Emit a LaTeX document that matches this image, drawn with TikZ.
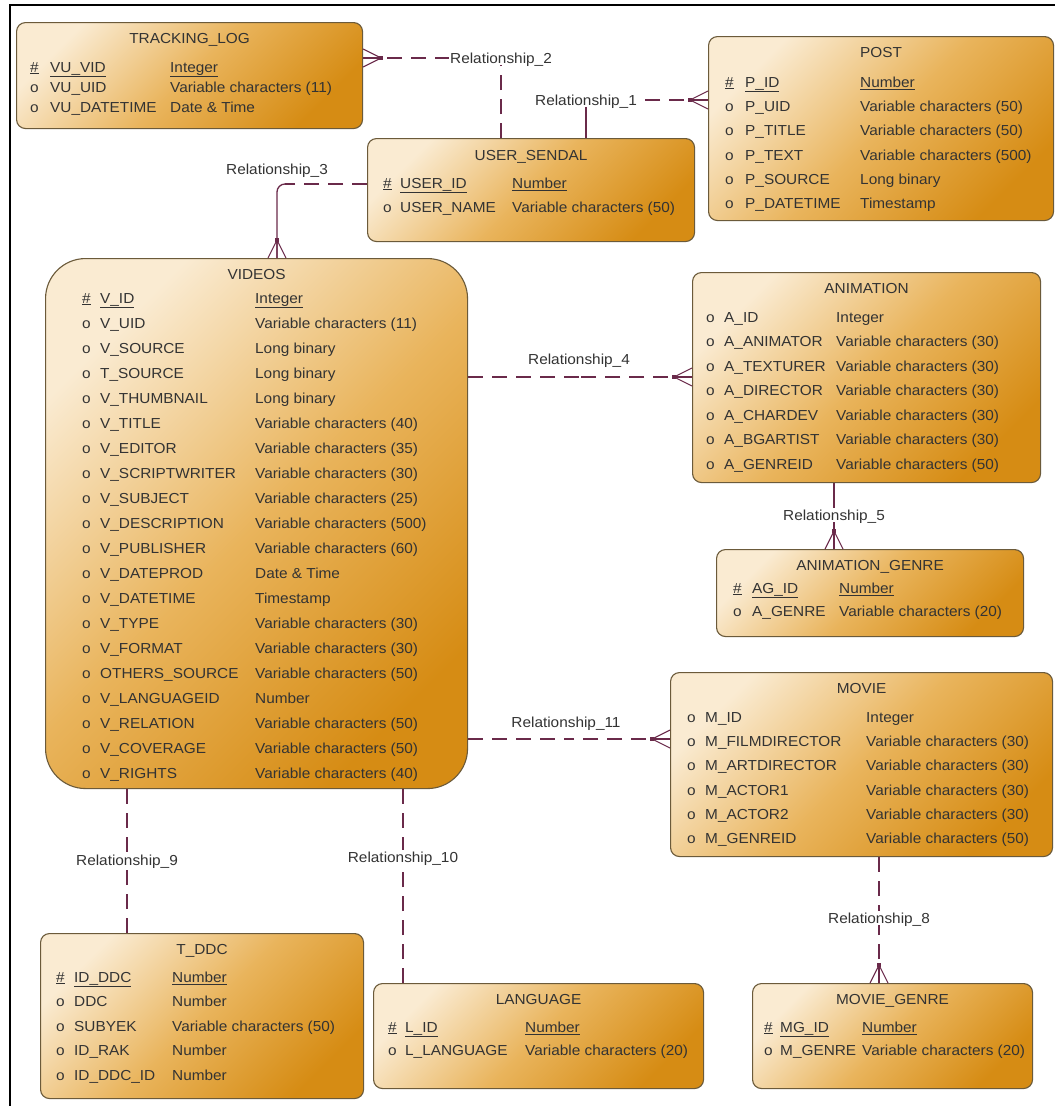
\documentclass[tikz,border=0pt]{standalone}
\usepackage{fontspec}
\setmainfont{Liberation Sans}[FakeStretch=1.06]
\usetikzlibrary{calc}
\pgfdeclarelayer{bg}
\pgfsetlayers{bg,main}
\definecolor{boxlight}{HTML}{FAEBD2}
\definecolor{boxmid}{HTML}{E9B45C}
\definecolor{boxdark}{HTML}{D68C14}
\definecolor{boxedge}{HTML}{6B5A3A}
\definecolor{relcol}{HTML}{6A2A4A}
\definecolor{txt}{HTML}{333333}

% column positions of the current entity
\newcommand\colM{0}\newcommand\colN{0}\newcommand\colT{0}
\newcommand\usecols[3]{\renewcommand\colM{#1}\renewcommand\colN{#2}\renewcommand\colT{#3}}
% attribute row: prefix, index, y, marker, name, type
\newcommand\erow[6]{%
  \node[cell] (#1m#2) at (\colM,#3) {#4};
  \node[cell] (#1n#2) at (\colN,#3) {#5};
  \node[cell] (#1t#2) at (\colT,#3) {#6};}
% primary key row: prefix, index, y, name, type
\newcommand\krow[5]{\erow{#1}{#2}{#3}{\underline{\#}}{\underline{#4}}{\underline{#5}}}

\begin{document}
\begin{tikzpicture}[x=1pt,y=-1pt,
  every node/.style={text=txt,font=\fontsize{14.5}{17}\selectfont},
  entity/.style={draw=boxedge,line width=1.1pt,rounded corners=9pt,
    top color=boxlight,bottom color=boxdark,middle color=boxmid,
    shading angle=45,anchor=north west,inner sep=0pt},
  cell/.style={anchor=west,inner sep=0pt,text height=10.5pt,text depth=0pt},
  etitle/.style={anchor=center,inner sep=0pt,text height=10.5pt,text depth=0pt},
  rellabel/.style={fill=white,inner sep=1.5pt,text height=10.5pt,text depth=0pt},
  rel/.style={draw=relcol,line width=1.3pt},
  reldash/.style={dash pattern=on 15pt off 9pt},
  crowfoot/.pic={
    \draw[relcol,line width=1.1pt] (0,0) -- (18,-9) (0,0) -- (18,0) (0,0) -- (18,9);
    \fill[relcol] (-2,-2) rectangle (2,2);}
]
\useasboundingbox (0,0) rectangle (1055,1106);
\begin{pgfonlayer}{bg}
  \fill[white] (0,0) rectangle (1055,1106);
\end{pgfonlayer}
\draw[line width=2.5pt] (10,1106) -- (10,5) -- (1055,5);

% ---------- entities ----------
\node[entity,minimum width=346pt,minimum height=106pt] (tl) at (16,22) {};
\node[etitle] (tlh) at ([yshift=-16pt]tl.north) {TRACKING\_LOG};
\usecols{30}{50}{170}
\krow{tl}{1}{67}{VU\_VID}{Integer}
\erow{tl}{2}{87}{o}{VU\_UID}{Variable characters (11)}
\erow{tl}{3}{107}{o}{VU\_DATETIME}{Date \& Time}

\node[entity,minimum width=345pt,minimum height=184pt] (post) at (708,36) {};
\node[etitle] (posth) at ([yshift=-16pt]post.north) {POST};
\usecols{725}{745}{860}
\krow{po}{1}{82}{P\_ID}{Number}
\erow{po}{2}{106}{o}{P\_UID}{Variable characters (50)}
\erow{po}{3}{130}{o}{P\_TITLE}{Variable characters (50)}
\erow{po}{4}{155}{o}{P\_TEXT}{Variable characters (500)}
\erow{po}{5}{179}{o}{P\_SOURCE}{Long binary}
\erow{po}{6}{203}{o}{P\_DATETIME}{Timestamp}

\node[entity,minimum width=327pt,minimum height=103pt] (us) at (367,138) {};
\node[etitle] (ush) at ([yshift=-17pt]us.north) {USER\_SENDAL};
\usecols{383}{400}{512}
\krow{us}{1}{183}{USER\_ID}{Number}
\erow{us}{2}{207}{o}{USER\_NAME}{Variable characters (50)}

\node[entity,rounded corners=40pt,minimum width=422pt,minimum height=530pt] (videos) at (45,258) {};
\node[etitle] (videosh) at ([yshift=-16pt]videos.north) {VIDEOS};
\usecols{82}{100}{255}
\krow{vi}{1}{298}{V\_ID}{Integer}
\erow{vi}{2}{323}{o}{V\_UID}{Variable characters (11)}
\erow{vi}{3}{348}{o}{V\_SOURCE}{Long binary}
\erow{vi}{4}{373}{o}{T\_SOURCE}{Long binary}
\erow{vi}{5}{398}{o}{V\_THUMBNAIL}{Long binary}
\erow{vi}{6}{423}{o}{V\_TITLE}{Variable characters (40)}
\erow{vi}{7}{448}{o}{V\_EDITOR}{Variable characters (35)}
\erow{vi}{8}{473}{o}{V\_SCRIPTWRITER}{Variable characters (30)}
\erow{vi}{9}{498}{o}{V\_SUBJECT}{Variable characters (25)}
\erow{vi}{10}{523}{o}{V\_DESCRIPTION}{Variable characters (500)}
\erow{vi}{11}{548}{o}{V\_PUBLISHER}{Variable characters (60)}
\erow{vi}{12}{573}{o}{V\_DATEPROD}{Date \& Time}
\erow{vi}{13}{598}{o}{V\_DATETIME}{Timestamp}
\erow{vi}{14}{623}{o}{V\_TYPE}{Variable characters (30)}
\erow{vi}{15}{648}{o}{V\_FORMAT}{Variable characters (30)}
\erow{vi}{16}{673}{o}{OTHERS\_SOURCE}{Variable characters (50)}
\erow{vi}{17}{698}{o}{V\_LANGUAGEID}{Number}
\erow{vi}{18}{723}{o}{V\_RELATION}{Variable characters (50)}
\erow{vi}{19}{748}{o}{V\_COVERAGE}{Variable characters (50)}
\erow{vi}{20}{773}{o}{V\_RIGHTS}{Variable characters (40)}

\node[entity,minimum width=348pt,minimum height=210pt] (anim) at (692,272) {};
\node[etitle] (animh) at ([yshift=-16pt]anim.north) {ANIMATION};
\usecols{706}{724}{836}
\erow{an}{1}{317}{o}{A\_ID}{Integer}
\erow{an}{2}{341.5}{o}{A\_ANIMATOR}{Variable characters (30)}
\erow{an}{3}{366}{o}{A\_TEXTURER}{Variable characters (30)}
\erow{an}{4}{390.5}{o}{A\_DIRECTOR}{Variable characters (30)}
\erow{an}{5}{415}{o}{A\_CHARDEV}{Variable characters (30)}
\erow{an}{6}{439.5}{o}{A\_BGARTIST}{Variable characters (30)}
\erow{an}{7}{464}{o}{A\_GENREID}{Variable characters (50)}

\node[entity,minimum width=307pt,minimum height=87pt] (ag) at (716,549) {};
\node[etitle] (agh) at ([yshift=-16pt]ag.north) {ANIMATION\_GENRE};
\usecols{733}{752}{839}
\krow{ag}{1}{588}{AG\_ID}{Number}
\erow{ag}{2}{611}{o}{A\_GENRE}{Variable characters (20)}

\node[entity,minimum width=382pt,minimum height=184pt] (movie) at (670,672) {};
\node[etitle] (movieh) at ([yshift=-16pt]movie.north) {MOVIE};
\usecols{687}{705}{866}
\erow{mo}{1}{717}{o}{M\_ID}{Integer}
\erow{mo}{2}{741}{o}{M\_FILMDIRECTOR}{Variable characters (30)}
\erow{mo}{3}{765.5}{o}{M\_ARTDIRECTOR}{Variable characters (30)}
\erow{mo}{4}{790}{o}{M\_ACTOR1}{Variable characters (30)}
\erow{mo}{5}{814}{o}{M\_ACTOR2}{Variable characters (30)}
\erow{mo}{6}{838}{o}{M\_GENREID}{Variable characters (50)}

\node[entity,minimum width=280pt,minimum height=105pt] (mg) at (752,983) {};
\node[etitle] (mgh) at ([yshift=-16pt]mg.north) {MOVIE\_GENRE};
\usecols{764}{780}{862}
\krow{mg}{1}{1027}{MG\_ID}{Number}
\erow{mg}{2}{1050}{o}{M\_GENRE}{Variable characters (20)}

\node[entity,minimum width=330pt,minimum height=105pt] (lang) at (373,983) {};
\node[etitle] (langh) at ([yshift=-16pt]lang.north) {LANGUAGE};
\usecols{388}{405}{525}
\krow{la}{1}{1027}{L\_ID}{Number}
\erow{la}{2}{1050}{o}{L\_LANGUAGE}{Variable characters (20)}

\node[entity,minimum width=323pt,minimum height=165pt] (tddc) at (40,933) {};
\node[etitle] (tddch) at ([yshift=-16pt]tddc.north) {T\_DDC};
\usecols{56}{74}{172}
\krow{td}{1}{977}{ID\_DDC}{Number}
\erow{td}{2}{1001}{o}{DDC}{Number}
\erow{td}{3}{1026}{o}{SUBYEK}{Variable characters (50)}
\erow{td}{4}{1050}{o}{ID\_RAK}{Number}
\erow{td}{5}{1075}{o}{ID\_DDC\_ID}{Number}

% ---------- relationship labels ----------
\node[rellabel] (r1) at (586,100) {Relationship\_1};
\node[rellabel] (r2) at (501,58) {Relationship\_2};
\node[rellabel] (r3) at (277,169) {Relationship\_3};
\node[rellabel] (r4) at (579,359) {Relationship\_4};
\node[rellabel] (r5) at (834,515) {Relationship\_5};
\node[rellabel] (r8) at (879,918) {Relationship\_8};
\node[rellabel] (r9) at (127,860) {Relationship\_9};
\node[rellabel] (r10) at (403,857) {Relationship\_10};
\node[rellabel] (r11) at (566,722) {Relationship\_11};
\coordinate (r3c) at (277,184);
\coordinate (r4c) at (579,377);
\coordinate (r11c) at (566,739);

% ---------- relationship lines (each half drawn from its entity) ----------
\begin{pgfonlayer}{bg}
  \draw[rel,reldash] (tl.east |- r2) -- (r2.center);
  \draw[rel,reldash] (r2.center |- us.north) -- (r2.center);
  \draw[rel] (us.north -| r1) -- (r1.center);
  \draw[rel,reldash] (r1.center -| post.west) -- (r1.center);
  \draw[rel,reldash] (us.west |- r3c) -- ([xshift=8pt]r3c);
  \draw[rel,rounded corners=8pt] ([xshift=8pt]r3c) -- (r3c) -- (r3c |- videos.north);
  \draw[rel,reldash] (videos.east |- r4c) -- (r4c);
  \draw[rel,reldash] (anim.west |- r4c) -- (r4c);
  \draw[rel,reldash] (videos.east |- r11c) -- (r11c);
  \draw[rel,reldash] (movie.west |- r11c) -- (r11c);
  \draw[rel] (anim.south -| r5) -- (ag.north -| r5);
  \draw[rel,reldash] (movie.south -| r8) -- (r8.center);
  \draw[rel,reldash] (mg.north -| r8) -- (r8.center);
  \draw[rel,reldash] (videos.south -| r9) -- (r9.center);
  \draw[rel,reldash] (tddc.north -| r9) -- (r9.center);
  \draw[rel,reldash] (videos.south -| r10) -- (r10.center);
  \draw[rel,reldash] (lang.north -| r10) -- (r10.center);
\end{pgfonlayer}

% ---------- crow's feet on the many side ----------
\pic[rotate=180] at ($(tl.east |- r2)+(18,0)$) {crowfoot};
\pic at ($(post.west |- r1)+(-18,0)$) {crowfoot};
\pic[rotate=-90] at ($(videos.north -| r3c)+(0,-18)$) {crowfoot};
\pic at ($(anim.west |- r4c)+(-18,0)$) {crowfoot};
\pic at ($(movie.west |- r11c)+(-18,0)$) {crowfoot};
\pic[rotate=-90] at ($(ag.north -| r5)+(0,-18)$) {crowfoot};
\pic[rotate=-90] at ($(mg.north -| r8)+(0,-18)$) {crowfoot};
\end{tikzpicture}
\end{document}
